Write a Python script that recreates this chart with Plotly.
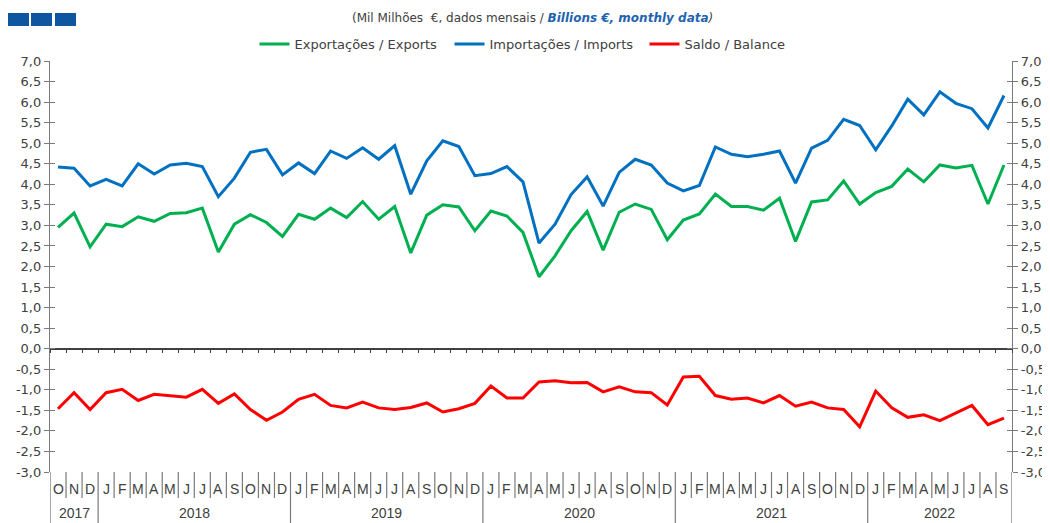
import plotly.graph_objects as go

months = ["O", "N", "D",
          "J", "F", "M", "A", "M", "J", "J", "A", "S", "O", "N", "D",
          "J", "F", "M", "A", "M", "J", "J", "A", "S", "O", "N", "D",
          "J", "F", "M", "A", "M", "J", "J", "A", "S", "O", "N", "D",
          "J", "F", "M", "A", "M", "J", "J", "A", "S", "O", "N", "D",
          "J", "F", "M", "A", "M", "J", "J", "A", "S"]
years = ["2017", "2018", "2019", "2020", "2021", "2022"]
months_per_year = [3, 12, 12, 12, 12, 9]

y_ticks = [-3.0, -2.5, -2.0, -1.5, -1.0, -0.5, 0.0, 0.5, 1.0, 1.5, 2.0,
           2.5, 3.0, 3.5, 4.0, 4.5, 5.0, 5.5, 6.0, 6.5, 7.0]
y_tick_labels = ["-3,0", "-2,5", "-2,0", "-1,5", "-1,0", "-0,5", "0,0", "0,5",
                 "1,0", "1,5", "2,0", "2,5", "3,0", "3,5", "4,0", "4,5",
                 "5,0", "5,5", "6,0", "6,5", "7,0"]

exports = [2.95, 3.30, 2.48, 3.03, 2.97, 3.21, 3.10, 3.29, 3.31, 3.42,
           2.35, 3.03, 3.26, 3.07, 2.73, 3.27, 3.15, 3.42, 3.19, 3.58,
           3.15, 3.46, 2.33, 3.25, 3.50, 3.45, 2.87, 3.35, 3.23, 2.83,
           1.75, 2.26, 2.87, 3.34, 2.40, 3.32, 3.52, 3.39, 2.65, 3.13,
           3.28, 3.76, 3.46, 3.46, 3.37, 3.66, 2.61, 3.57, 3.62, 4.08,
           3.52, 3.80, 3.95, 4.37, 4.06, 4.47, 4.40, 4.46, 3.52, 4.47]
imports = [4.42, 4.39, 3.96, 4.12, 3.96, 4.50, 4.25, 4.47, 4.51, 4.43,
           3.70, 4.15, 4.78, 4.85, 4.23, 4.52, 4.26, 4.81, 4.63, 4.89,
           4.61, 4.94, 3.76, 4.57, 5.06, 4.92, 4.21, 4.26, 4.43, 4.06,
           2.57, 3.03, 3.75, 4.18, 3.47, 4.29, 4.61, 4.47, 4.03, 3.84,
           3.97, 4.91, 4.73, 4.67, 4.73, 4.81, 4.03, 4.88, 5.07, 5.58,
           5.43, 4.84, 5.42, 6.07, 5.69, 6.25, 5.97, 5.84, 5.37, 6.16]
balance = [-1.46, -1.07, -1.48, -1.07, -0.99, -1.26, -1.11, -1.15, -1.18, -0.99,
           -1.33, -1.10, -1.48, -1.74, -1.54, -1.23, -1.11, -1.38, -1.44, -1.30,
           -1.44, -1.48, -1.43, -1.32, -1.54, -1.46, -1.33, -0.91, -1.20, -1.20,
           -0.81, -0.78, -0.83, -0.82, -1.05, -0.93, -1.05, -1.07, -1.37, -0.69,
           -0.67, -1.14, -1.23, -1.20, -1.32, -1.14, -1.40, -1.30, -1.44, -1.48,
           -1.90, -1.03, -1.44, -1.67, -1.61, -1.75, -1.56, -1.38, -1.85, -1.69]

series_names = ["Exportações / Exports", "Importações / Imports", "Saldo / Balance"]
series_colors = ["#00b050", "#0070c0", "#ff0000"]

# the page body adds an 8px offset; size the figure so it ends at 1050x523
OFF = 8
W, H = 1050 - OFF, 523 - OFF
ML, MR, MT, MB = 50 - OFF, 38, 61 - OFF, 51
PW, PH = W - ML - MR, H - MT - MB


def py(px):
    # px: pixel row in the window
    return 1 + (MT - (px - OFF)) / PH


def pxx(px):
    return ((px - OFF) - ML) / PW


n = len(months)
x = list(range(n))
axis_col = "#7a7a7a"
txt_col = "#404040"
font = "DejaVu Sans, sans-serif"
lab_font = "Liberation Sans Narrow, Liberation Sans, Arial, sans-serif"

fig = go.Figure()
for name, vals, col in zip(series_names, [exports, imports, balance], series_colors):
    fig.add_trace(go.Scatter(x=x, y=vals, mode="lines", name=name,
                             line=dict(color=col, width=3), yaxis="y"))
# invisible traces to carry the extra (right / inner tick) axes
for ax in ["y2", "y3", "y4"]:
    fig.add_trace(go.Scatter(x=[x[0]], y=[exports[0]], mode="lines", yaxis=ax,
                             showlegend=False, hoverinfo="skip",
                             line=dict(color="rgba(0,0,0,0)")))

base = dict(range=[y_ticks[0], y_ticks[-1]], tickmode="array",
            tickvals=y_ticks, ticktext=y_tick_labels,
            showgrid=False, zeroline=False, automargin=False,
            ticklen=5, tickcolor=axis_col, tickwidth=1.2)
lab = dict(showline=True, linecolor=axis_col, linewidth=1.3, ticks="outside",
           tickfont=dict(size=13, color=txt_col, family=font))
inner = dict(showline=False, ticks="inside", showticklabels=False)

shapes = []
annotations = []
# month separators
bounds = [sum(months_per_year[:k]) for k in range(1, len(months_per_year))]
for i in range(1, n):
    b = i - 0.5
    long = i in bounds
    shapes.append(dict(type="line", xref="x", yref="paper", x0=b, x1=b,
                       y0=0, y1=py(523) if long else py(498),
                       line=dict(color=axis_col, width=1.2)))
for b in [-0.5, n - 0.5]:
    shapes.append(dict(type="line", xref="x", yref="paper", x0=b, x1=b,
                       y0=0, y1=py(523), line=dict(color=axis_col, width=1.3)))
for i, m in enumerate(months):
    annotations.append(dict(x=i, y=py(489), xref="x", yref="paper", text=m,
                            showarrow=False, yanchor="middle",
                            font=dict(size=14, color=txt_col, family=lab_font)))
start = 0
for yr, cnt in zip(years, months_per_year):
    annotations.append(dict(x=start + (cnt - 1) / 2, y=py(513), xref="x", yref="paper",
                            text=yr, showarrow=False, yanchor="middle",
                            font=dict(size=14, color=txt_col, family=lab_font)))
    start += cnt

# header squares
for a, b in [(8, 29), (31, 52), (55, 76)]:
    shapes.append(dict(type="rect", xref="paper", yref="paper",
                       x0=pxx(a), x1=pxx(b), y0=py(26), y1=py(13),
                       fillcolor="#0f56a0", line=dict(width=0)))

annotations.append(dict(
    x=pxx(532), y=py(18), xref="paper", yref="paper", showarrow=False,
    yanchor="middle", xanchor="center",
    text="(Mil Milhões  €, dados mensais / <span style='color:#1f63b0'><b><i>Billions €, monthly data</i></b></span><i>)</i>",
    font=dict(size=12, color=txt_col, family=font)))

fig.update_layout(
    width=W, height=H,
    margin=dict(l=ML, r=MR, t=MT, b=MB, pad=0, autoexpand=False),
    paper_bgcolor="white", plot_bgcolor="white",
    font=dict(family=font, color=txt_col, size=13),
    xaxis=dict(range=[-0.5, n - 0.5], anchor="free", position=0.3,
               showgrid=False, zeroline=False, showline=True, automargin=False,
               linecolor="#404040", linewidth=1.5,
               ticks="outside", ticklen=4, tickcolor="#404040",
               tickvals=[i - 0.5 for i in range(n + 1)],
               showticklabels=False),
    yaxis=dict(**base, **lab, side="left"),
    yaxis2=dict(**base, **lab, side="right", overlaying="y", matches="y"),
    yaxis3=dict(**base, **inner, side="left", overlaying="y", matches="y"),
    yaxis4=dict(**base, **inner, side="right", overlaying="y", matches="y"),
    legend=dict(orientation="h", x=pxx(547), xanchor="center", y=py(44),
                yanchor="middle", font=dict(size=13, color=txt_col, family=font),
                bgcolor="rgba(0,0,0,0)", itemwidth=30, tracegroupgap=0,
                entrywidth=150, entrywidthmode="pixels"),
    shapes=shapes, annotations=annotations,
    showlegend=True,
)

fig.write_html("out.html")
